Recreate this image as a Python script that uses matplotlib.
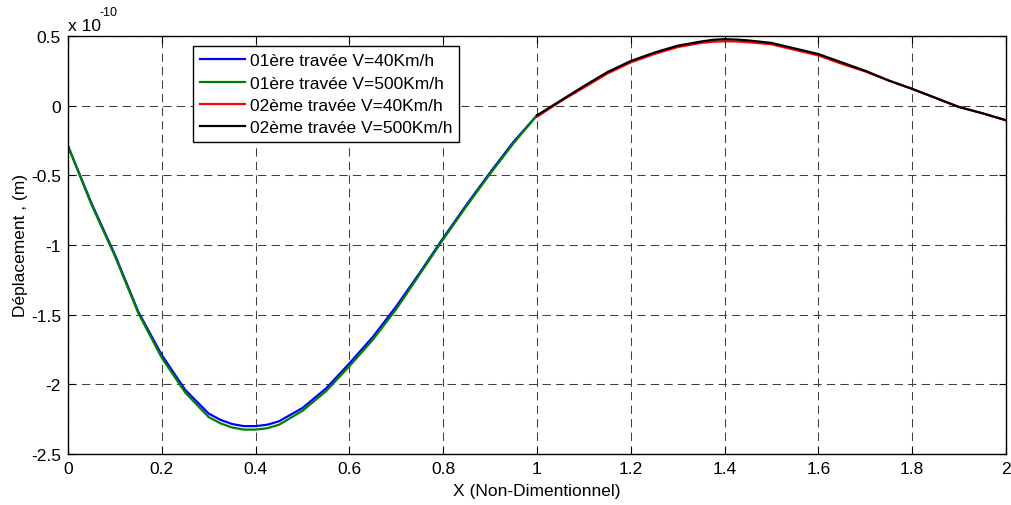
import matplotlib
matplotlib.use('Agg')
import matplotlib.pyplot as plt
import numpy as np
from matplotlib.ticker import FuncFormatter

plt.rcParams['font.family'] = ['Liberation Sans', 'DejaVu Sans']

SCALE = 1e-10

# first span (x from 0 to 1), values in units of 1e-10 m
x1 = [0.0, 0.05, 0.1, 0.15, 0.2, 0.25, 0.3, 0.325, 0.35, 0.375, 0.4, 0.425, 0.45, 0.5,
      0.55, 0.6, 0.65, 0.7, 0.75, 0.8, 0.85, 0.9, 0.95, 1.0]
v40_span1 = [-0.29, -0.70, -1.07, -1.48, -1.79, -2.04, -2.21, -2.255, -2.285, -2.30, -2.30,
             -2.29, -2.265, -2.17, -2.03, -1.85, -1.66, -1.44, -1.20, -0.95, -0.71, -0.48,
             -0.26, -0.07]
v500_span1 = [-0.29, -0.71, -1.08, -1.49, -1.81, -2.06, -2.235, -2.28, -2.31, -2.325, -2.325,
              -2.315, -2.29, -2.19, -2.05, -1.87, -1.68, -1.46, -1.21, -0.96, -0.72, -0.49,
              -0.27, -0.07]

# second span (x from 1 to 2)
x2 = [1.0, 1.05, 1.1, 1.15, 1.2, 1.25, 1.3, 1.35, 1.375, 1.4, 1.425, 1.45, 1.5,
      1.55, 1.6, 1.65, 1.7, 1.75, 1.8, 1.85, 1.9, 1.95, 2.0]
v40_span2 = [-0.08, 0.03, 0.13, 0.23, 0.31, 0.37, 0.42, 0.45, 0.458, 0.462, 0.46, 0.455, 0.44,
             0.40, 0.36, 0.30, 0.245, 0.18, 0.12, 0.055, -0.01, -0.055, -0.105]
v500_span2 = [-0.07, 0.035, 0.14, 0.24, 0.32, 0.38, 0.43, 0.46, 0.472, 0.477, 0.474, 0.468, 0.45,
              0.41, 0.37, 0.31, 0.25, 0.18, 0.12, 0.055, -0.01, -0.055, -0.105]

labels = ['01ère travée V=40Km/h', '01ère travée V=500Km/h',
          '02ème travée V=40Km/h', '02ème travée V=500Km/h']

fig = plt.figure(figsize=(10.12, 5.06), dpi=100)
ax = fig.add_axes([0.0672, 0.1008, 0.9268, 0.8262])

lw = 1.6
ax.plot(x1, np.array(v40_span1) * SCALE, color='#0000ff', lw=lw, label=labels[0])
ax.plot(x1, np.array(v500_span1) * SCALE, color='#008000', lw=lw, label=labels[1])
ax.plot(x2, np.array(v40_span2) * SCALE, color='#ff0000', lw=lw, label=labels[2])
ax.plot(x2, np.array(v500_span2) * SCALE, color='black', lw=lw, label=labels[3])

ax.set_xlim(0, 2)
ax.set_ylim(-2.5 * SCALE, 0.5 * SCALE)
ax.set_xticks(np.arange(0, 2.01, 0.2))
ax.set_yticks(np.arange(-2.5, 0.51, 0.5) * SCALE)
ax.xaxis.set_major_formatter(FuncFormatter(lambda v, p: f'{round(v, 6):g}'))
ax.yaxis.set_major_formatter(FuncFormatter(lambda v, p: f'{round(v / SCALE, 6):g}'))

ax.grid(True, color='0.25', linestyle=(0, (8, 5)), linewidth=0.75)
ax.tick_params(direction='in', length=5, width=0.8, top=True, right=True,
               labelsize=12.5, pad=5)
for s in ax.spines.values():
    s.set_linewidth(1.0)
    s.set_color('black')

ax.set_xlabel('X (Non-Dimentionnel)', fontsize=12.5, labelpad=5)
ax.set_ylabel('Déplacement , (m)', fontsize=12.5, labelpad=2)

# exponent label, MATLAB style
ax.text(0.0, 1.008, 'x 10', transform=ax.transAxes, ha='left', va='bottom', fontsize=12.5)
ax.text(0.034, 1.042, '-10', transform=ax.transAxes, ha='left', va='bottom', fontsize=9)

leg = ax.legend(loc='upper left', bbox_to_anchor=(0.133, 0.975), fontsize=12.5,
                frameon=True, fancybox=False, edgecolor='black', framealpha=1,
                handlelength=2.6, handletextpad=0.3, borderpad=0.4,
                labelspacing=0.4, borderaxespad=0)
leg.get_frame().set_linewidth(1.0)

fig.savefig('out.png', dpi=100)
